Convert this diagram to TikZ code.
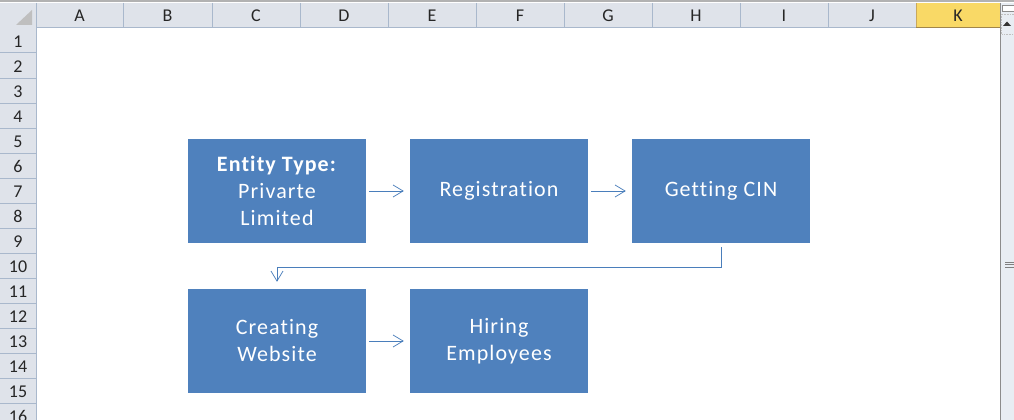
\documentclass[tikz,border=0pt]{standalone}
\usepackage{fontspec}
\setmainfont{Carlito}
\newfontfamily\boxfont[LetterSpace=5,Ligatures=NoCommon]{Carlito}
\usetikzlibrary{arrows.meta}
\definecolor{boxblue}{HTML}{4F81BD}
\definecolor{linkblue}{HTML}{4A7EBB}
\definecolor{hdrfill}{HTML}{DFE3EA}
\definecolor{hdrline}{HTML}{A9B8CC}
\definecolor{selfill}{HTML}{F9D966}
\definecolor{selline}{HTML}{C9A85C}
\definecolor{scrollfill}{HTML}{E8EDF3}
\definecolor{scrollline}{HTML}{8C8C8C}
\tikzset{
  stepbox/.style={fill=boxblue, draw=none, text=white, minimum width=178pt, minimum height=104pt,
    inner sep=2pt, align=center, font=\boxfont\fontsize{22}{27}\selectfont},
  link/.style={draw=linkblue, line width=0.75pt, -{Straight Barb[length=10pt,width=12pt]}},
  hdrtext/.style={text=black!85, font=\fontsize{18}{20}\selectfont, inner sep=0pt},
  gridline/.style={draw=hdrline, line width=1pt}
}
\begin{document}
\begin{tikzpicture}[x=1pt,y=-1pt]
\useasboundingbox (0,0) rectangle (1014,420);
\fill[white] (0,0) rectangle (1014,420);
% top strip
\fill[black!30] (0,0) rectangle (1014,2.5);
% header backgrounds
\fill[hdrfill] (0,3) rectangle (1000,28);
\fill[hdrfill] (0,28) rectangle (36,420);
\fill[selfill] (916,3) rectangle (1000,28);
\draw[selline, line width=1pt] (916.5,3) -- (916.5,28);
\draw[selline!80!black, line width=1.2pt] (916,27.5) -- (1000,27.5);
% corner triangle
\fill[black!25] (32,10) -- (32,25) -- (16,25) -- cycle;
% column separators and labels
\foreach \x in {123,212,300,388,476,564,652,740,828}
  \draw[gridline] (\x,3) -- (\x,28);
\draw[gridline] (36,3) -- (36,420);
\draw[gridline] (36,28) -- (916,28);
\foreach \l/\x in {A/79.5,B/167.5,C/256,D/344,E/432,F/520,G/608,H/696,I/784,J/872,K/958}
  \node[hdrtext] (col\l) at (\x,16) {\l};
% row separators and numbers
\foreach \i in {1,...,16} {
  \draw[gridline] (0,28+25*\i) -- (36,28+25*\i);
  \node[hdrtext] (row\i) at (18,41.5+25*\i-25) {\i};
}
% scrollbar
\fill[scrollfill] (1000,3) rectangle (1014,420);
\draw[scrollline, line width=1.2pt] (1000.6,3) -- (1000.6,420);
\draw[black!45, fill=white, line width=0.8pt] (1002,5) rectangle (1014,11);
\draw[black!25, densely dotted, line width=0.6pt] (1001.5,14) rectangle (1014,34);
\fill[black!80] (1003,26) -- (1011,26) -- (1007,21.5) -- cycle;
\foreach \y in {262,264.5,267}
  \draw[black!50, line width=0.9pt] (1005,\y) -- (1014,\y);
% flowchart boxes
\node[stepbox] (entity) at (277,191) {\textbf{Entity Type:}\\Privarte\\Limited};
\node[stepbox] (reg) at (499,191) {Registration};
\node[stepbox] (cin) at (721,191) {Getting CIN};
\node[stepbox] (web) at (277,341) {Creating\\Website};
\node[stepbox] (hire) at (499,341) {Hiring\\Employees};
% connectors
\draw[link, shorten <=3pt, shorten >=6pt] (entity.east) -- (reg.west);
\draw[link, shorten <=3pt, shorten >=6pt] (reg.east) -- (cin.west);
\draw[link, shorten <=3pt, shorten >=6pt] (web.east) -- (hire.west);
\coordinate (bend) at (721,267);
\draw[link, shorten <=4pt, shorten >=7pt] (cin.south) -- (bend) -| (web.north);
\end{tikzpicture}
\end{document}
